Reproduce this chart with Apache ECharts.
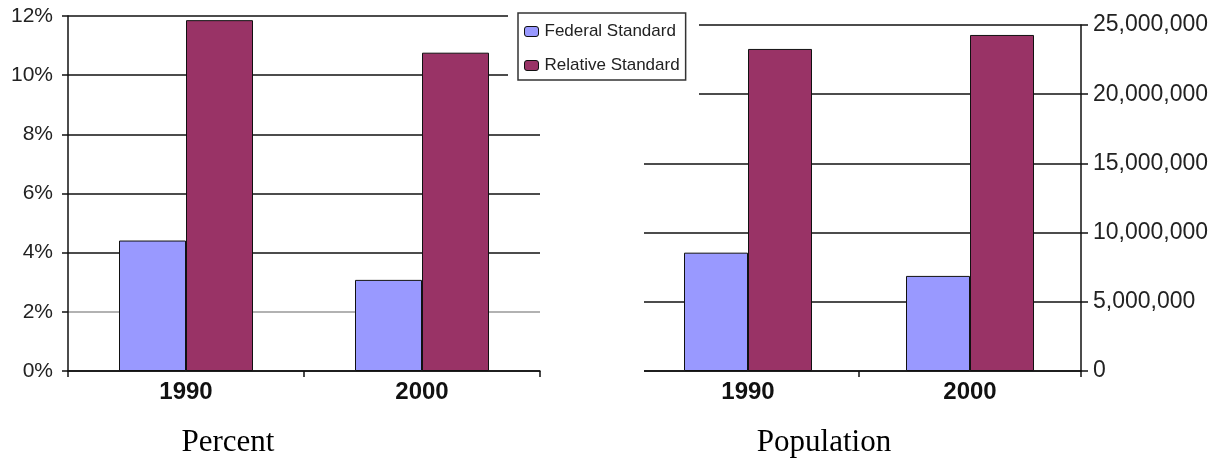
<!DOCTYPE html>
<html>
<head>
<meta charset="utf-8">
<script src="https://cdn.jsdelivr.net/npm/echarts@6/dist/echarts.min.js"></script>
<style>
  html, body { margin: 0; padding: 0; background: #fff; }
  #chart { width: 1226px; height: 462px; }
</style>
</head>
<body>
<div id="chart"></div>
<script>
// data
const categories = ['1990', '2000']
const seriesNames = ['Federal Standard', 'Relative Standard']
const percentFederal = [4.41, 3.08]
const percentRelative = [11.86, 10.76]
const populationFederal = [8550000, 6870000]
const populationRelative = [23270000, 24280000]
const panelTitles = ['Percent', 'Population']

const fedColor = '#9999ff'
const relColor = '#993366'
const sansFont = '"Liberation Sans", Arial, sans-serif'
const serifFont = '"Liberation Serif", "Times New Roman", serif'

const chart = echarts.init(document.getElementById('chart'))

function catAxis(gridIndex) {
  return {
    type: 'category',
    gridIndex,
    data: categories,
    axisLine: { lineStyle: { color: '#111', width: 1.5 } },
    axisTick: { show: true, length: 6, lineStyle: { color: '#111', width: 1.5 } },
    axisLabel: {
      color: '#111',
      fontFamily: sansFont,
      fontWeight: 'bold',
      fontSize: 24,
      margin: 9
    }
  }
}

function barStyle(color) {
  return { color, borderColor: '#111', borderWidth: 1 }
}

const option = {
  animation: false,
  backgroundColor: '#fff',
  title: [
    {
      text: panelTitles[0],
      left: 228,
      top: 427,
      textAlign: 'center',
      padding: 0,
      textStyle: { fontFamily: serifFont, fontWeight: 'normal', fontSize: 31, color: '#000' }
    },
    {
      text: panelTitles[1],
      left: 824,
      top: 427,
      textAlign: 'center',
      padding: 0,
      textStyle: { fontFamily: serifFont, fontWeight: 'normal', fontSize: 31, color: '#000' }
    }
  ],
  legend: {
    data: seriesNames,
    orient: 'vertical',
    left: 518,
    top: 13,
    z: 10,
    padding: [10, 6, 6, 6],
    itemGap: 17,
    itemWidth: 14,
    itemHeight: 10,
    borderColor: '#333',
    borderWidth: 1.5,
    backgroundColor: '#fff',
    itemStyle: { borderColor: '#111', borderWidth: 1 },
    textStyle: { fontFamily: sansFont, fontSize: 17, color: '#222', padding: [0, 0, 0, 1] }
  },
  // masks: top gridlines stop short of the legend, and the right panel's
  // lines start a little in from its first category band, as in the original
  graphic: [
    {
      type: 'rect',
      z: 5,
      shape: { x: 508, y: 0, width: 191, height: 105 },
      style: { fill: '#fff' }
    },
    {
      type: 'rect',
      z: 5,
      shape: { x: 634, y: 105, width: 10, height: 280 },
      style: { fill: '#fff' }
    }
  ],
  grid: [
    { left: 68, right: 686, top: 16, bottom: 91 },
    { left: 637, right: 145, top: 25, bottom: 91 }
  ],
  xAxis: [catAxis(0), catAxis(1)],
  yAxis: [
    {
      type: 'value',
      gridIndex: 0,
      min: 0,
      max: 12,
      interval: 2,
      axisLine: { show: true, lineStyle: { color: '#111', width: 1.5 } },
      axisTick: { show: true, length: 6, lineStyle: { color: '#111', width: 1.5 } },
      axisLabel: {
        formatter: '{value}%',
        color: '#222',
        fontFamily: sansFont,
        fontSize: 21,
        margin: 15
      },
      splitLine: {
        lineStyle: {
          color: ['#111', '#999', '#111', '#111', '#111', '#111', '#111'],
          width: 1.5
        }
      }
    },
    {
      type: 'value',
      gridIndex: 1,
      position: 'right',
      min: 0,
      max: 25000000,
      interval: 5000000,
      axisLine: { show: true, lineStyle: { color: '#111', width: 1.5 } },
      axisTick: { show: true, length: 7, lineStyle: { color: '#111', width: 1.5 } },
      axisLabel: {
        formatter: v => v.toLocaleString('en-US'),
        color: '#222',
        fontFamily: sansFont,
        fontSize: 23,
        margin: 12
      },
      splitLine: { lineStyle: { color: '#111', width: 1.5 } }
    }
  ],
  series: [
    {
      name: seriesNames[0],
      type: 'bar',
      xAxisIndex: 0,
      yAxisIndex: 0,
      data: percentFederal,
      barWidth: 67,
      barGap: '0%',
      itemStyle: barStyle(fedColor)
    },
    {
      name: seriesNames[1],
      type: 'bar',
      xAxisIndex: 0,
      yAxisIndex: 0,
      data: percentRelative,
      barWidth: 67,
      barGap: '0%',
      itemStyle: barStyle(relColor)
    },
    {
      name: seriesNames[0],
      type: 'bar',
      xAxisIndex: 1,
      yAxisIndex: 1,
      data: populationFederal,
      barWidth: 64,
      barGap: '0%',
      itemStyle: barStyle(fedColor)
    },
    {
      name: seriesNames[1],
      type: 'bar',
      xAxisIndex: 1,
      yAxisIndex: 1,
      data: populationRelative,
      barWidth: 64,
      barGap: '0%',
      itemStyle: barStyle(relColor)
    }
  ]
}

chart.setOption(option)
</script>
</body>
</html>
